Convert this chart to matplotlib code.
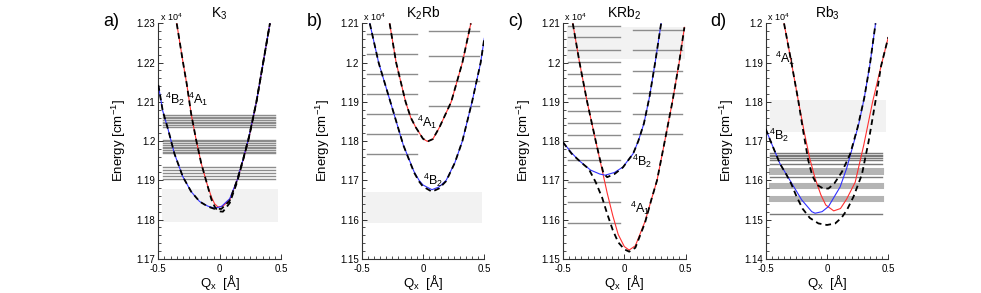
import matplotlib
matplotlib.use("Agg")
import matplotlib.pyplot as plt
from matplotlib.ticker import MultipleLocator, AutoMinorLocator, FuncFormatter

plt.rcParams['font.family'] = ['Liberation Sans', 'DejaVu Sans']
plt.rcParams['mathtext.fontset'] = 'custom'
plt.rcParams['mathtext.rm'] = 'Liberation Sans'
plt.rcParams['mathtext.it'] = 'Liberation Sans:italic'

# ---- a) K3 ----
A_RED_Q = [-0.35, -0.30, -0.268, -0.232, -0.191, -0.15, -0.104, -0.068, -0.041, -0.014,
           0.027, 0.082, 0.142, 0.19, 0.24, 0.30, 0.355, 0.41]
A_RED_E = [12300, 12203, 12145, 12069, 12002, 11943, 11892, 11858, 11840, 11832,
           11834, 11850, 11900, 11950, 12010, 12100, 12200, 12300]
A_BLUE_Q = [-0.5, -0.464, -0.418, -0.369, -0.30, -0.232, -0.164, -0.096, -0.041, 0.014,
            0.082, 0.142, 0.19, 0.24, 0.30, 0.355, 0.41]
A_BLUE_E = [12143, 12077, 12027, 11968, 11909, 11871, 11846, 11834, 11829, 11833,
            11853, 11900, 11952, 12012, 12100, 12200, 12300]
A_DASH1_E = [12300, 12203, 12145, 12069, 12002, 11943, 11892, 11852, 11833, 11821,
             11820, 11842, 11895, 11950, 12010, 12100, 12200, 12300]
A_DASH2_E = [12143, 12077, 12027, 11968, 11909, 11871, 11846, 11833, 11827, 11827,
             11848, 11900, 11952, 12012, 12100, 12200, 12300]
A_LEVELS = [12066, 12062, 12058, 12053, 12049, 12045, 12041, 12035,
            12003, 11999, 11994, 11990, 11986, 11982, 11978, 11973, 11969,
            11933, 11925, 11919, 11911, 11904]
A_BAND = (11794, 11877)

# ---- b) K2Rb ----
B_BLUE_Q = [-0.434, -0.362, -0.266, -0.161, -0.073, -0.032, 0.0, 0.073, 0.13, 0.189,
            0.26, 0.321, 0.40, 0.47, 0.5]
B_BLUE_E = [12100, 12000, 11900, 11790, 11722, 11700, 11688, 11676, 11683, 11700,
            11745, 11800, 11900, 12000, 12062]
B_BDASH_E = [12100, 12000, 11900, 11790, 11720, 11697, 11684, 11671, 11679, 11698,
             11745, 11800, 11900, 12000, 12062]
B_RED_Q = [-0.272, -0.219, -0.142, -0.10, -0.059, 0.0, 0.037, 0.08, 0.134, 0.23, 0.321, 0.39]
B_RED_E = [12100, 12000, 11900, 11860, 11835, 11806, 11799, 11805, 11835, 11900, 12000, 12100]
B_LEVELS_L = [12073, 12022, 11971, 11919, 11869, 11818, 11767]
B_LEVELS_R = [12081, 12017, 11953, 11889]
B_BAND = (11590, 11670)

# ---- c) KRb2 ----
C_RED_Q = [-0.42, -0.365, -0.303, -0.233, -0.18, -0.14, -0.094, -0.05, 0.0, 0.039,
           0.09, 0.169, 0.22, 0.267, 0.33, 0.392, 0.447, 0.49]
C_RED_E = [12100, 12000, 11900, 11800, 11725, 11668, 11610, 11562, 11531, 11522,
           11533, 11595, 11650, 11700, 11800, 11900, 12000, 12090]
C_BLUE_Q = [-0.5, -0.43, -0.372, -0.275, -0.2, -0.156, -0.08, -0.011, 0.072, 0.114,
            0.16, 0.205, 0.253, 0.30]
C_BLUE_E = [11797, 11770, 11751, 11726, 11716, 11713, 11720, 11734, 11768, 11800,
            11845, 11912, 12003, 12100]
C_DASH1_Q = [-0.5, -0.43, -0.35, -0.29, -0.233, -0.18, -0.14, -0.094, -0.05, 0.0, 0.04,
             0.09, 0.169, 0.22, 0.267, 0.33, 0.392, 0.447, 0.49]
C_DASH1_E = [11797, 11768, 11745, 11729, 11695, 11655, 11615, 11573, 11542, 11524, 11518,
             11528, 11592, 11650, 11700, 11800, 11900, 12000, 12090]
C_DASH2_Q = [-0.42, -0.365, -0.303, -0.233, -0.2, -0.17, -0.14, -0.08, -0.011, 0.072,
             0.114, 0.16, 0.205, 0.253, 0.30]
C_DASH2_E = [12100, 12000, 11900, 11800, 11755, 11718, 11708, 11716, 11733, 11768,
             11800, 11845, 11912, 12003, 12100]
C_LEVELS_L = [12094, 12065, 12033, 12001, 11971, 11940, 11909, 11877, 11847, 11815,
              11783, 11752, 11696, 11644, 11591]
C_LEVELS_R = [12084, 12033, 11978, 11923, 11869, 11818]
C_BAND = (12010, 12090)

# ---- d) Rb3 ----
D_RED_Q = [-0.35, -0.29, -0.235, -0.185, -0.14, -0.097, -0.05, -0.01, 0.055, 0.11,
           0.16, 0.23, 0.30, 0.372, 0.44, 0.5]
D_RED_E = [12000, 11900, 11805, 11722, 11655, 11605, 11563, 11537, 11522, 11528,
           11552, 11595, 11690, 11800, 11890, 11965]
D_BLUE_Q = [-0.5, -0.451, -0.383, -0.287, -0.206, -0.124, -0.097, -0.04, 0.012, 0.107,
            0.16, 0.216, 0.26, 0.304, 0.35, 0.396]
D_BLUE_E = [11731, 11693, 11642, 11592, 11550, 11520, 11516, 11520, 11533, 11583,
            11630, 11693, 11745, 11810, 11895, 12000]
D_DASH1_Q = [-0.5, -0.451, -0.383, -0.33, -0.29, -0.25, -0.2, -0.14, -0.07, 0.0, 0.067,
             0.12, 0.162, 0.216, 0.285, 0.34, 0.40, 0.44, 0.5]
D_DASH1_E = [11731, 11693, 11642, 11614, 11590, 11560, 11528, 11504, 11490, 11486, 11490,
             11505, 11524, 11558, 11615, 11700, 11810, 11890, 11965]
D_DASH2_Q = [-0.35, -0.29, -0.235, -0.19, -0.152, -0.12, -0.08, -0.03, 0.012, 0.06,
             0.121, 0.189, 0.25, 0.304, 0.35, 0.396]
D_DASH2_E = [12000, 11900, 11805, 11718, 11650, 11612, 11588, 11579, 11579, 11592,
             11621, 11667, 11735, 11810, 11895, 12000]
D_LEVELS_DARK = [11670, 11665, 11662, 11657, 11651, 11641, 11609, 11515]
D_LEVELS_LIGHT = [11630, 11625, 11619, 11590, 11587, 11583, 11558, 11555, 11551]
D_BAND = (11724, 11805)

LEVEL_COLOR = '#8c8c8c'
BAND_COLOR = '#f2f2f2'
RED = '#ff3030'
BLUE = '#3030ff'


def sc(values):
    '''
    cm^-1 -> units of 10^4 cm^-1
    '''
    return [v / 1e4 for v in values]


def setup_axes(fig, left, ylim, title, tag):
    '''
    '''
    ax = fig.add_axes([left, 0.117, 0.125, 0.803])
    ax.set_xlim(-0.5, 0.5)
    ax.set_ylim(*ylim)
    for side in ('top', 'right'):
        ax.spines[side].set_visible(False)
    for side in ('left', 'bottom'):
        ax.spines[side].set_linewidth(0.8)
        ax.spines[side].set_color('#333333')
    ax.xaxis.set_major_locator(MultipleLocator(0.5))
    ax.xaxis.set_minor_locator(MultipleLocator(0.05))
    ax.yaxis.set_major_locator(MultipleLocator(0.01))
    ax.yaxis.set_minor_locator(AutoMinorLocator(5))
    ax.yaxis.set_major_formatter(FuncFormatter(lambda v, p: '%g' % round(v, 4)))
    ax.xaxis.set_major_formatter(FuncFormatter(lambda v, p: '%g' % round(v, 2)))
    ax.tick_params(which='both', direction='in', labelsize=7, color='#333333')
    ax.tick_params(axis='y', pad=2)
    ax.tick_params(axis='x', pad=3.5)
    ax.tick_params(which='major', length=3.5, width=0.7)
    ax.tick_params(which='minor', length=2, width=0.6)
    ax.set_ylabel('Energy [cm$^{-1}$]', fontsize=9.5)
    ax.yaxis.set_label_coords(-0.245, 0.5)
    ax.set_xlabel('Q$_\\mathrm{x}$  [Å]', fontsize=9.5)
    ax.xaxis.set_label_coords(0.5, -0.062)
    ax.set_title(title, fontsize=10, pad=4)
    ax.text(0.01, 1.0, 'x 10$^4$', transform=ax.transAxes, fontsize=6.5,
            ha='left', va='bottom')
    fig.text(left - 0.048, 0.925, tag, fontsize=13, ha='center', va='center')
    return ax


def band(ax, lims, q0, q1):
    ax.fill_between([q0, q1], lims[0] / 1e4, lims[1] / 1e4, color=BAND_COLOR,
                    lw=0, zorder=0)


def levels(ax, energies, q0, q1, color=LEVEL_COLOR, lw=1.0):
    for e in energies:
        ax.plot([q0, q1], [e / 1e4] * 2, color=color, lw=lw, zorder=1)


def curve(ax, q, e, color):
    ax.plot(q, sc(e), color=color, lw=0.8, zorder=2)


def dashed(ax, q, e):
    ax.plot(q, sc(e), color='black', lw=1.3, dashes=(3.2, 2.2), zorder=3)


def label(ax, q, e, txt):
    ax.text(q, e / 1e4, txt, fontsize=9, ha='left', va='center', zorder=4)


if __name__ == "__main__":
    fig = plt.figure(figsize=(9.81, 2.93), dpi=100)

    # a)
    ax = setup_axes(fig, 0.1614, (1.17, 1.23), 'K$_3$', 'a)')
    band(ax, A_BAND, -0.467, 0.473)
    levels(ax, A_LEVELS, -0.464, 0.451)
    curve(ax, A_RED_Q, A_RED_E, RED)
    curve(ax, A_BLUE_Q, A_BLUE_E, BLUE)
    dashed(ax, A_RED_Q, A_DASH1_E)
    dashed(ax, A_BLUE_Q, A_DASH2_E)
    label(ax, -0.445, 12106, '$^4$B$_2$')
    label(ax, -0.258, 12106, '$^4$A$_1$')

    # b)
    ax = setup_axes(fig, 0.3687, (1.15, 1.21), 'K$_2$Rb', 'b)')
    band(ax, B_BAND, -0.481, 0.478)
    levels(ax, B_LEVELS_L, -0.459, -0.051)
    levels(ax, B_LEVELS_R, 0.051, 0.456)
    curve(ax, B_RED_Q, B_RED_E, RED)
    curve(ax, B_BLUE_Q, B_BLUE_E, BLUE)
    dashed(ax, B_RED_Q, B_RED_E)
    dashed(ax, B_BLUE_Q, B_BDASH_E)
    label(ax, -0.045, 11848, '$^4$A$_1$')
    label(ax, -0.004, 11700, '$^4$B$_2$')

    # c)
    ax = setup_axes(fig, 0.5739, (1.15, 1.21), 'KRb$_2$', 'c)')
    band(ax, C_BAND, -0.469, 0.497)
    levels(ax, C_LEVELS_L, -0.456, -0.039)
    levels(ax, C_LEVELS_R, 0.067, 0.472)
    curve(ax, C_RED_Q, C_RED_E, RED)
    curve(ax, C_BLUE_Q, C_BLUE_E, BLUE)
    dashed(ax, C_DASH1_Q, C_DASH1_E)
    dashed(ax, C_DASH2_Q, C_DASH2_E)
    label(ax, 0.065, 11749, '$^4$B$_2$')
    label(ax, 0.05, 11629, '$^4$A$_1$')

    # d)
    ax = setup_axes(fig, 0.7805, (1.14, 1.20), 'Rb$_3$', 'd)')
    band(ax, D_BAND, -0.467, 0.48)
    levels(ax, D_LEVELS_LIGHT, -0.467, 0.451, color='#b4b4b4', lw=2.2)
    levels(ax, D_LEVELS_DARK, -0.467, 0.451, color='#7a7a7a', lw=1.0)
    curve(ax, D_RED_Q, D_RED_E, RED)
    curve(ax, D_BLUE_Q, D_BLUE_E, BLUE)
    dashed(ax, D_DASH1_Q, D_DASH1_E)
    dashed(ax, D_DASH2_Q, D_DASH2_E)
    label(ax, -0.424, 11912, '$^4$A$_1$')
    label(ax, -0.47, 11714, '$^4$B$_2$')

    fig.savefig('out.png', dpi=100)
